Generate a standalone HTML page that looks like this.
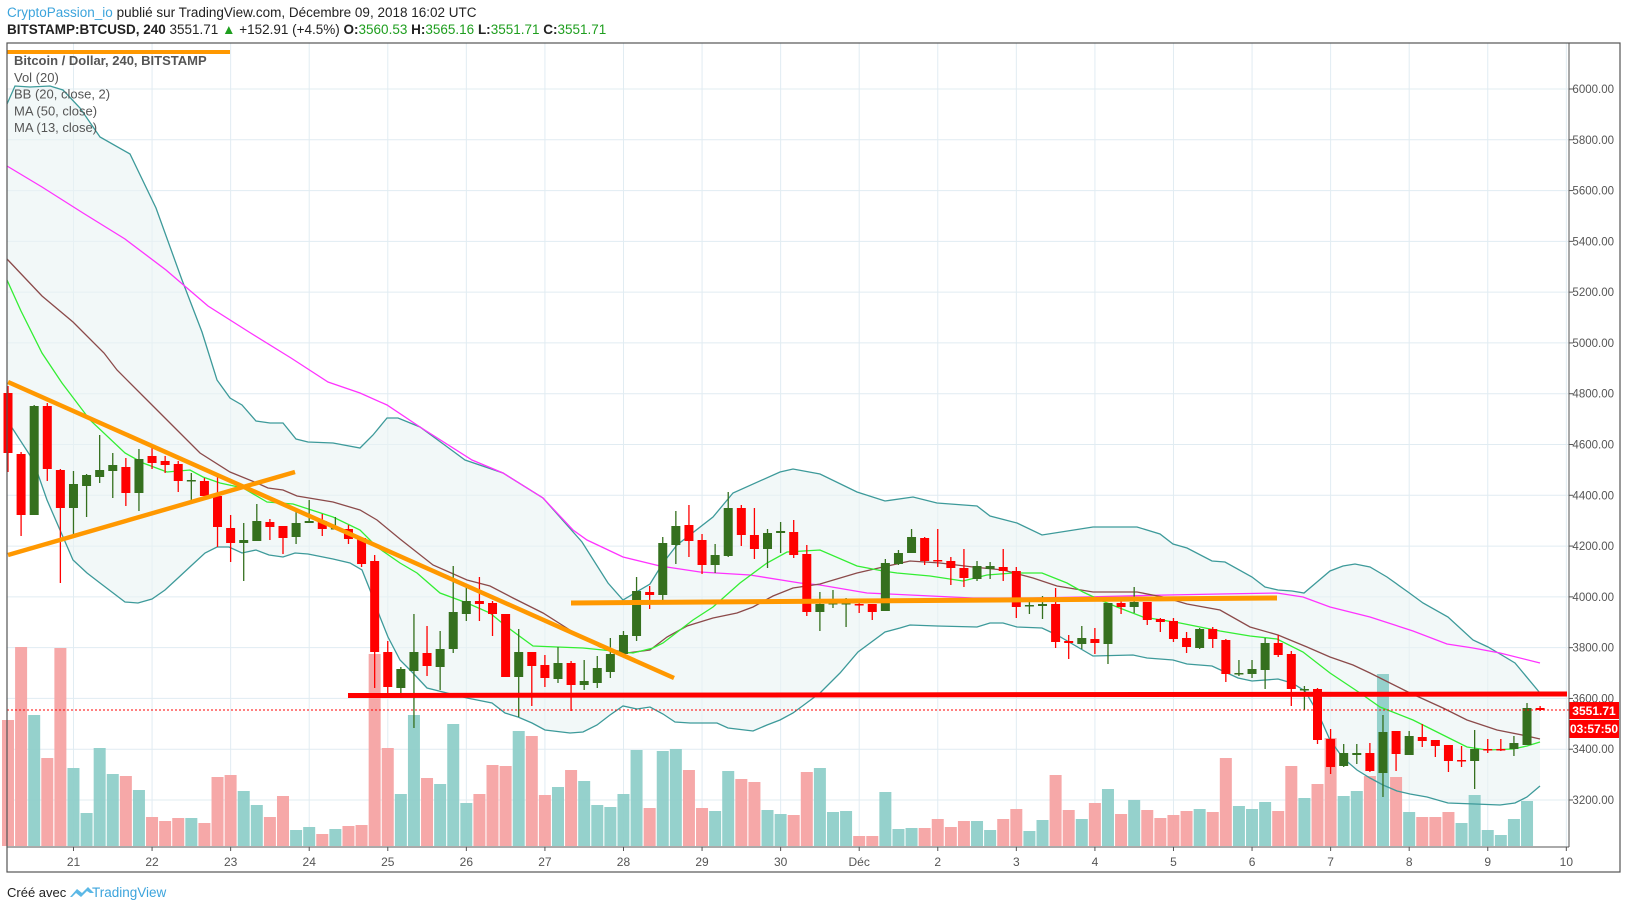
<!DOCTYPE html>
<html><head><meta charset="utf-8"><style>
html,body{margin:0;padding:0;background:#fff;}
body{width:1627px;height:909px;overflow:hidden;}
svg text{font-family:"Liberation Sans",sans-serif;}
</style></head><body>
<svg id="s" width="1627" height="909" viewBox="0 0 1627 909" xmlns="http://www.w3.org/2000/svg">
<text x="7" y="17" font-size="13.5" fill="#222"><tspan fill="#3ca4dc">CryptoPassion_io</tspan> publié sur TradingView.com, Décembre 09, 2018 16:02 UTC</text>
<text x="7" y="34" font-size="13.5" fill="#222"><tspan font-weight="bold">BITSTAMP:BTCUSD, 240</tspan> 3551.71 <tspan fill="#1e9e1e">▲</tspan> +152.91 (+4.5%) <tspan font-weight="bold">O:</tspan><tspan fill="#1e9e1e">3560.53</tspan> <tspan font-weight="bold">H:</tspan><tspan fill="#1e9e1e">3565.16</tspan> <tspan font-weight="bold">L:</tspan><tspan fill="#1e9e1e">3551.71</tspan> <tspan font-weight="bold">C:</tspan><tspan fill="#1e9e1e">3551.71</tspan></text>
<g id="g"></g>
<text x="7" y="897" font-size="13" fill="#222">Créé avec</text>
<path d="M70 897 l7 -8 l5 4 l6 -6 l6 6 l-4 0 l-3 -2 l-6 6 l-5 -4 l-4 4 z" fill="#5bb8e6"/>
<text x="92" y="897" font-size="13.5" fill="#3ca4dc">TradingView</text>
</svg>
<script>
var C=[[393,453,386,472],[454,515,452,536],[515,406,405,515],[406,469,403,481],[470,508,469,583],[508,484,471,535],[486,475,474,517],[477,470,435,483],[471,465,453,498],[467,493,458,506],[493,459,449,511],[456,463,446,469],[461,465,456,473],[464,481,461,492],[481,480,473,503],[481,496,478,497],[496,527,475,547],[528,543,515,562],[543,540,523,581],[541,521,504,541],[522,527,519,540],[526,538,526,554],[537,523,509,544],[523,521,500,523],[521,529,514,536],[529,528,517,529],[529,539,525,544],[538,564,537,567],[561,652,555,688],[652,687,641,693],[688,669,667,698],[671,652,614,728],[653,666,626,676],[667,649,631,690],[649,612,566,653],[614,601,585,621],[601,604,577,621],[603,614,601,636],[614,677,614,677],[677,652,629,717],[652,666,652,706],[665,678,655,687],[679,663,647,683],[663,685,661,711],[685,681,660,690],[683,668,656,688],[672,654,638,678],[654,635,631,655],[636,591,577,641],[592,595,586,609],[595,543,537,603],[545,526,511,564],[525,541,505,557],[540,565,534,574],[565,555,544,573],[556,508,492,557],[508,535,505,546],[535,549,508,559],[549,533,529,568],[533,531,522,553],[532,555,520,558],[554,612,545,616],[612,604,592,631],[604,603,590,608],[604,603,598,627],[604,605,599,613],[604,612,604,620],[611,563,559,611],[564,553,550,565],[553,537,529,553],[538,561,537,565],[560,561,529,567],[561,568,557,585],[568,578,549,587],[579,566,561,581],[569,566,562,579],[567,571,549,581],[571,607,567,618],[606,605,602,614],[606,604,596,619],[604,642,588,648],[641,643,635,659],[644,638,626,649],[639,643,628,654],[644,603,603,664],[603,607,598,614],[607,602,587,613],[602,620,602,625],[619,622,618,632],[621,639,618,642],[638,647,632,653],[648,629,628,649],[629,639,627,648],[640,674,639,682],[674,673,660,676],[674,669,660,678],[670,643,638,689],[643,655,635,657],[654,689,651,706],[690,689,686,710],[689,740,688,744],[739,767,729,774],[766,753,744,767],[755,753,744,764],[753,771,743,772],[773,732,715,797],[731,754,731,771],[755,736,731,755],[737,741,724,747],[740,746,740,757],[745,761,745,772],[760,760,746,767],[761,749,730,789],[749,749,739,753],[749,749,739,751],[749,743,736,756],[745,708,703,745],[708,710,706,711]];
var V=[[720,1],[647,1],[715,0],[758,1],[648,1],[768,0],[813,0],[748,0],[774,0],[776,1],[790,0],[817,1],[821,1],[818,1],[818,0],[823,1],[777,1],[775,1],[791,0],[805,0],[817,1],[796,1],[830,0],[827,0],[834,1],[829,0],[826,1],[825,1],[654,1],[748,1],[794,0],[715,0],[778,1],[784,0],[724,0],[803,0],[794,1],[765,1],[766,1],[731,0],[736,1],[795,1],[787,0],[770,1],[781,0],[805,0],[807,0],[794,0],[750,0],[808,1],[751,0],[749,0],[770,1],[808,1],[811,0],[771,0],[779,1],[782,1],[810,0],[814,0],[815,1],[772,1],[768,0],[812,0],[811,0],[836,1],[836,1],[792,0],[829,0],[828,0],[828,1],[819,1],[827,1],[821,1],[821,0],[830,0],[819,1],[809,1],[831,0],[820,0],[775,1],[810,1],[819,0],[803,1],[789,0],[814,1],[800,0],[810,1],[818,1],[815,1],[811,1],[809,0],[812,1],[758,1],[806,0],[809,0],[802,0],[811,1],[766,1],[798,0],[784,1],[738,1],[796,0],[791,0],[776,1],[674,0],[777,1],[812,0],[817,1],[817,1],[812,1],[823,0],[795,0],[830,0],[835,0],[819,0],[801,0]];
var UP=[[7,104],[15,86],[30,87],[50,86],[63,90],[80,108],[100,137],[130,154],[156,208],[182,280],[202,332],[217,380],[230,398],[242,405],[256,421],[270,423],[283,423],[296,439],[308,442],[333,443],[360,448],[373,435],[387,418],[398,418],[420,427],[446,446],[465,460],[503,473],[543,498],[582,542],[608,583],[623,600],[650,584],[663,563],[677,545],[713,517],[733,493],[780,472],[793,469],[820,474],[857,492],[885,501],[913,497],[937,503],[977,506],[990,516],[1017,523],[1042,535],[1093,527],[1137,527],[1160,534],[1173,544],[1187,548],[1212,561],[1225,562],[1252,577],[1265,587],[1278,590],[1292,591],[1304,593],[1317,582],[1330,571],[1343,566],[1355,564],[1370,567],[1387,577],[1408,592],[1423,603],[1448,617],[1473,640],[1488,647],[1500,654],[1515,663],[1540,693]];
var LO=[[7,420],[33,460],[47,500],[60,530],[73,560],[87,573],[100,583],[125,602],[138,603],[152,599],[165,590],[178,578],[192,565],[205,553],[217,547],[229,547],[242,553],[256,550],[269,555],[283,557],[295,553],[308,554],[333,559],[350,563],[362,570],[370,590],[380,617],[388,637],[400,660],[413,673],[427,688],[467,698],[492,703],[505,713],[518,717],[532,723],[545,730],[570,733],[583,732],[597,725],[610,715],[623,706],[637,709],[650,707],[663,714],[675,722],[690,723],[717,723],[728,728],[753,731],[767,725],[780,720],[793,713],[820,693],[840,673],[858,652],[885,632],[900,628],[910,625],[937,626],[977,627],[990,623],[1003,623],[1017,627],[1042,628],[1057,635],[1093,656],[1133,655],[1147,658],[1173,660],[1187,664],[1212,666],[1238,678],[1252,681],[1278,679],[1292,683],[1305,691],[1318,713],[1330,740],[1343,758],[1357,770],[1370,778],[1383,785],[1397,791],[1410,794],[1427,797],[1448,803],[1475,804],[1500,805],[1515,803],[1527,797],[1540,786]];
var M50=[[7,166],[42,187],[83,213],[125,239],[166,270],[208,306],[249,332],[291,358],[328,382],[360,393],[387,405],[420,427],[472,460],[503,473],[543,498],[573,530],[587,540],[623,557],[660,566],[700,572],[750,575],[800,583],[820,585],[867,593],[910,595],[973,598],[1033,598],[1083,597],[1167,595],[1220,594],[1277,593],[1303,597],[1330,607],[1370,617],[1413,631],[1447,644],[1473,648],[1500,653],[1540,663]];
var BAS=[[7,259],[42,296],[73,322],[104,353],[117,370],[147,400],[177,430],[200,453],[230,472],[257,483],[268,488],[283,490],[297,496],[333,502],[360,510],[377,520],[400,539],[433,565],[467,580],[490,586],[513,598],[543,613],[573,632],[600,647],[627,653],[650,650],[667,637],[687,626],[713,618],[737,613],[753,607],[773,596],[793,588],[820,584],[857,573],[883,567],[910,561],[940,563],[973,567],[1003,570],[1033,578],[1057,586],[1093,592],[1137,592],[1163,597],[1187,604],[1220,610],[1250,627],[1278,635],[1307,647],[1330,657],[1353,665],[1370,673],[1410,693],[1443,708],[1467,720],[1497,730],[1527,736],[1540,739]];
var M13=[[7,280],[21,311],[42,353],[62,383],[90,420],[125,453],[143,463],[167,472],[190,470],[203,477],[220,483],[243,488],[267,502],[293,504],[333,517],[360,530],[377,547],[400,563],[417,573],[440,593],[467,603],[490,613],[507,627],[533,646],[557,647],[583,648],[613,651],[633,653],[653,648],[663,643],[693,620],[713,607],[740,583],[767,563],[787,552],[820,550],[857,566],[883,571],[897,573],[930,576],[963,581],[987,575],[1013,573],[1042,573],[1067,583],[1083,592],[1100,600],[1117,607],[1143,617],[1180,623],[1220,631],[1250,636],[1277,639],[1303,652],[1330,673],[1360,693],[1380,707],[1413,720],[1443,735],[1467,747],[1487,750],[1513,749],[1527,746],[1540,742]];
var o='';
function pl(a){return a.map(function(p){return p[0]+','+p[1]}).join(' ');}
var L=7,R=1569,T=43,B=847;
for(var p=3000;p<=6000;p+=200){var y=800-(p-3200)*0.25393;if(y>T&&y<B)o+='<line x1="'+L+'" x2="'+R+'" y1="'+y+'" y2="'+y+'" stroke="#e1ecf2"/>';}
var days=['21','22','23','24','25','26','27','28','29','30','Déc','2','3','4','5','6','7','8','9','10'];
for(var k=0;k<20;k++){var x=73.5+78.57*k;o+='<line x1="'+x+'" x2="'+x+'" y1="'+T+'" y2="'+B+'" stroke="#e1ecf2"/>';o+='<line x1="'+x+'" x2="'+x+'" y1="'+B+'" y2="'+(B+4)+'" stroke="#555"/>';o+='<text x="'+x+'" y="'+866+'" font-size="12" fill="#555" text-anchor="middle">'+days[k]+'</text>';}
o+='<polygon points="'+pl(UP)+' '+pl(LO.slice().reverse())+'" fill="#e9f4f3" fill-opacity="0.6"/>';
for(var i=0;i<V.length;i++){var x=8+13.095*i;o+='<rect x="'+(x-6)+'" y="'+V[i][0]+'" width="12" height="'+(846-V[i][0])+'" fill="'+(V[i][1]?'#f5a3a3':'#8fcfc9')+'" fill-opacity="0.95"/>';}
o+='<polyline points="'+pl(UP)+'" fill="none" stroke="#3d9a9a" stroke-width="1.3"/>';
o+='<polyline points="'+pl(LO)+'" fill="none" stroke="#3d9a9a" stroke-width="1.3"/>';
o+='<polyline points="'+pl(M50)+'" fill="none" stroke="#ff33ff" stroke-width="1.3"/>';
o+='<polyline points="'+pl(BAS)+'" fill="none" stroke="#8b4a4a" stroke-width="1.3"/>';
o+='<polyline points="'+pl(M13)+'" fill="none" stroke="#33ee33" stroke-width="1.3"/>';
for(var i=0;i<C.length;i++){var c=C[i],x=8+13.095*i,g=c[1]<c[0],col=g?'#35701e':'#ff0000';
var t=Math.min(c[0],c[1]),h=Math.max(Math.abs(c[1]-c[0]),1.5);
o+='<line x1="'+x+'" x2="'+x+'" y1="'+c[2]+'" y2="'+c[3]+'" stroke="'+col+'" stroke-width="1.3"/>';
o+='<rect x="'+(x-4.5)+'" y="'+t+'" width="9" height="'+h+'" fill="'+col+'"/>';}
o+='<line x1="8" y1="382" x2="674" y2="678" stroke="#ff9800" stroke-width="4.5"/>';
o+='<line x1="8" y1="555" x2="295" y2="472" stroke="#ff9800" stroke-width="4.5"/>';
o+='<line x1="571" y1="603" x2="1277" y2="598" stroke="#ff9800" stroke-width="5"/>';
o+='<line x1="7" y1="52" x2="230" y2="52" stroke="#ff9800" stroke-width="4"/>';
o+='<line x1="348" y1="695.5" x2="1567" y2="694" stroke="#ff0000" stroke-width="5"/>';
o+='<line x1="7" y1="710" x2="1569" y2="710" stroke="#ff0000" stroke-width="1" stroke-dasharray="2,2"/>';
var lg=['Bitcoin / Dollar, 240, BITSTAMP','Vol (20)','BB (20, close, 2)','MA (50, close)','MA (13, close)'];
for(var i=0;i<5;i++)o+='<text x="14" y="'+(65+16.8*i)+'" font-size="13" fill="#555"'+(i==0?' font-weight="bold"':'')+'>'+lg[i]+'</text>';
for(var p=3200;p<=6000;p+=200){var y=800-(p-3200)*0.25393;o+='<line x1="1569" x2="1573" y1="'+y+'" y2="'+y+'" stroke="#555"/>';o+='<text x="1614" y="'+(y+4)+'" font-size="11.5" fill="#555" text-anchor="end">'+p+'.00</text>';}
o+='<rect x="1569" y="702" width="50" height="17" fill="#ff0000"/><text x="1594" y="715" font-size="12" fill="#fff" font-weight="bold" text-anchor="middle">3551.71</text>';
o+='<rect x="1569" y="720" width="50" height="18" fill="#ff0000"/><text x="1594" y="733" font-size="12" fill="#fff" font-weight="bold" text-anchor="middle">03:57:50</text>';
o+='<line x1="1569" x2="1569" y1="43" y2="847" stroke="#555"/><line x1="7" x2="1569" y1="847" y2="847" stroke="#555"/>';
o+='<rect x="7" y="43" width="1613" height="829" fill="none" stroke="#555" stroke-width="1.2"/>';
document.getElementById('g').innerHTML=o;
</script>
</body></html>
